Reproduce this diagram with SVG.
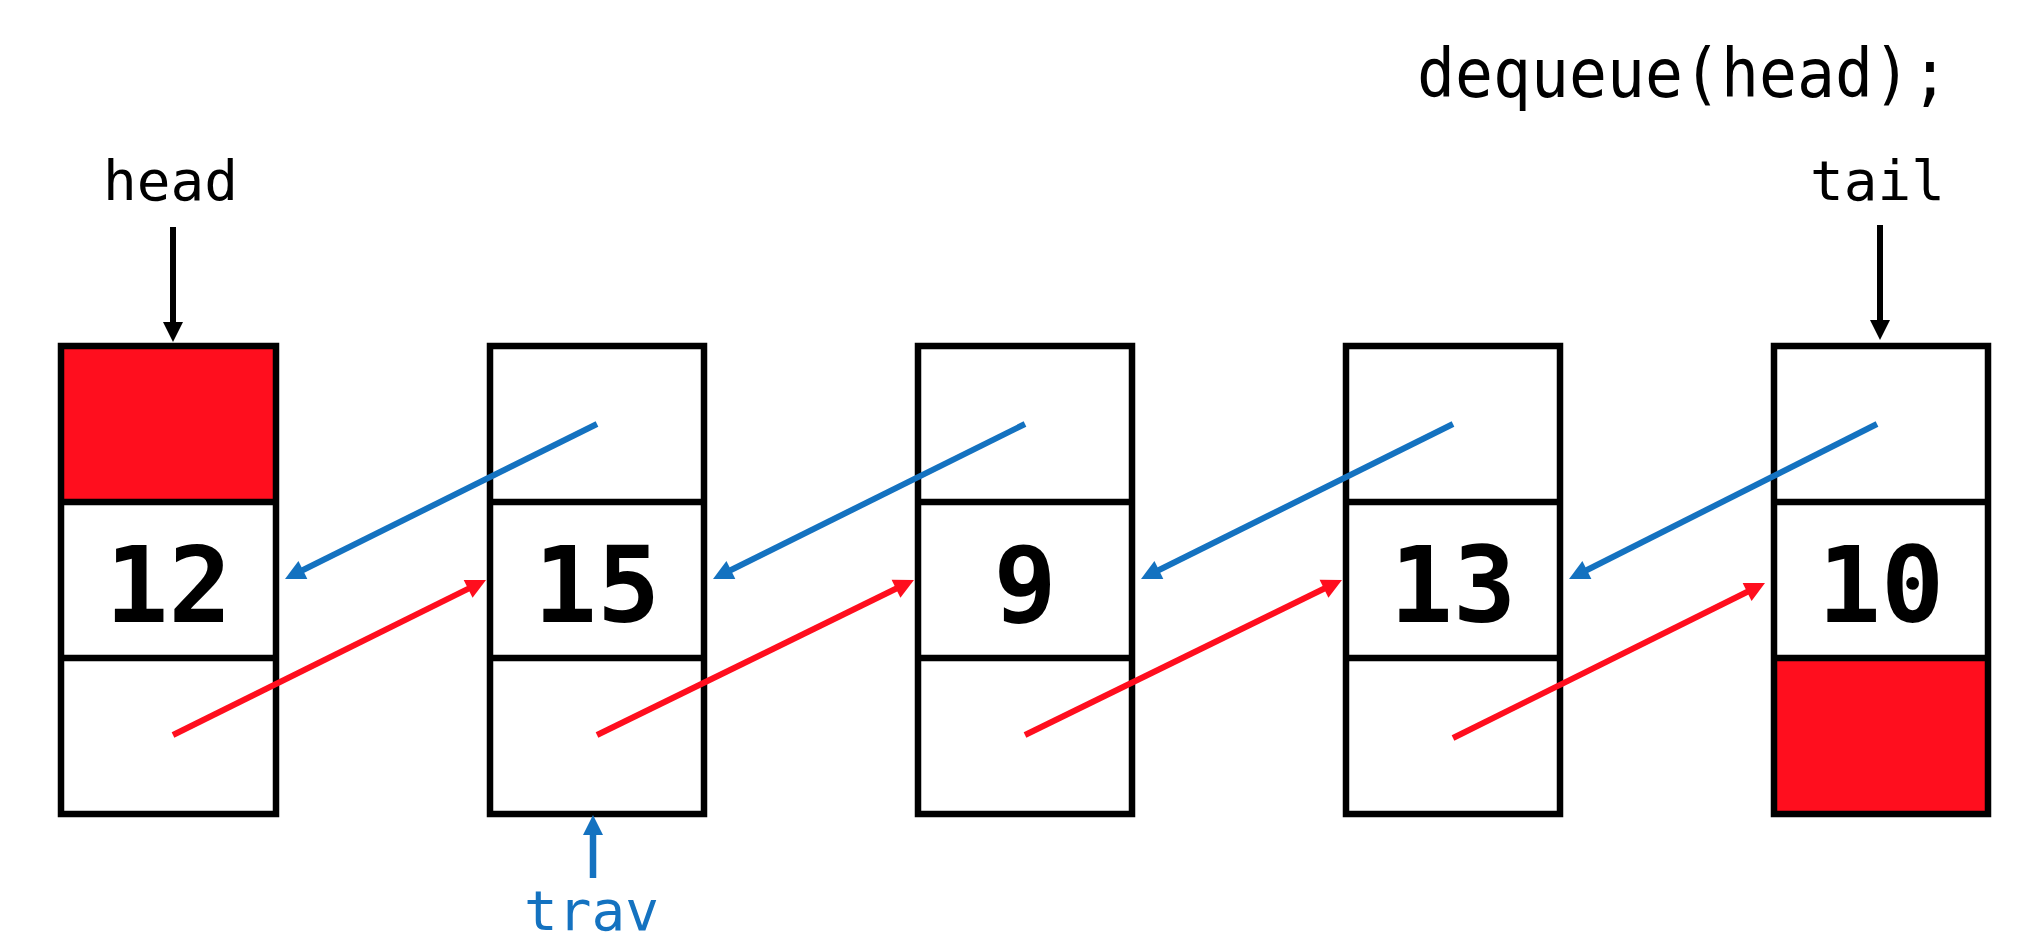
<svg xmlns="http://www.w3.org/2000/svg" width="2026" height="942" viewBox="0 0 2026 942">
<style>
.cell{fill:none;stroke:#000;stroke-width:6.5}
.div{stroke:#000;stroke-width:6.5}
.red{fill:#FF0E1E}
.num{font-family:"DejaVu Sans Mono","Liberation Mono",monospace;font-weight:bold;font-size:105px;text-anchor:middle;fill:#000}
.lbl{font-family:"DejaVu Sans Mono","Liberation Mono",monospace;font-size:56px;text-anchor:middle;fill:#000}
.rl{stroke:#FF0E1E;stroke-width:6;fill:none;marker-end:url(#ahR)}
.bl{stroke:#1472C0;stroke-width:6;fill:none;marker-end:url(#ahB)}
.kl{stroke:#000;stroke-width:6;fill:none;marker-end:url(#ahK)}
.tl{stroke:#1472C0;stroke-width:6.5;fill:none;marker-end:url(#ahB)}
</style>
<defs>
<marker id="ahR" markerUnits="userSpaceOnUse" markerWidth="20" markerHeight="20" viewBox="0 -10 20 20" refX="1" refY="0" orient="auto" overflow="visible"><path d="M0,-10 L20,0 L0,10 z" fill="#FF0E1E"/></marker>
<marker id="ahB" markerUnits="userSpaceOnUse" markerWidth="20" markerHeight="20" viewBox="0 -10 20 20" refX="1" refY="0" orient="auto" overflow="visible"><path d="M0,-10 L20,0 L0,10 z" fill="#1472C0"/></marker>
<marker id="ahK" markerUnits="userSpaceOnUse" markerWidth="20" markerHeight="20" viewBox="0 -10 20 20" refX="1" refY="0" orient="auto" overflow="visible"><path d="M0,-10 L20,0 L0,10 z" fill="#000"/></marker>
</defs>
<rect x="0" y="0" width="2026" height="942" fill="#fff"/>

<text id="title" class="lbl" x="1417" y="97" style="text-anchor:start;font-size:68px" textLength="532" lengthAdjust="spacingAndGlyphs">dequeue(head);</text>

<g id="node1">
<rect class="red" x="61" y="346" width="215" height="156"/>
<rect class="cell" x="61" y="346" width="215" height="468"/>
<line class="div" x1="61" y1="502" x2="276" y2="502"/>
<line class="div" x1="61" y1="658" x2="276" y2="658"/>
<text class="num" x="168.5" y="622">12</text>
</g>
<g id="node2">
<rect class="cell" x="490" y="346" width="214" height="468"/>
<line class="div" x1="490" y1="502" x2="704" y2="502"/>
<line class="div" x1="490" y1="658" x2="704" y2="658"/>
<text class="num" x="597" y="622">15</text>
</g>
<g id="node3">
<rect class="cell" x="918" y="346" width="214" height="468"/>
<line class="div" x1="918" y1="502" x2="1132" y2="502"/>
<line class="div" x1="918" y1="658" x2="1132" y2="658"/>
<text class="num" x="1025" y="622">9</text>
</g>
<g id="node4">
<rect class="cell" x="1346" y="346" width="214" height="468"/>
<line class="div" x1="1346" y1="502" x2="1560" y2="502"/>
<line class="div" x1="1346" y1="658" x2="1560" y2="658"/>
<text class="num" x="1453" y="622">13</text>
</g>
<g id="node5">
<rect class="red" x="1774" y="658" width="214" height="156"/>
<rect class="cell" x="1774" y="346" width="214" height="468"/>
<line class="div" x1="1774" y1="502" x2="1988" y2="502"/>
<line class="div" x1="1774" y1="658" x2="1988" y2="658"/>
<text class="num" x="1881" y="622">10</text>
</g>

<g id="head">
<text class="lbl" x="170.5" y="200">head</text>
</g>
<g id="tail">
<text class="lbl" x="1877.5" y="200">tail</text>
</g>
<g id="trav">
<text class="lbl" x="591.5" y="930" style="fill:#1472C0">trav</text>
</g>

<g id="connectors">
<line class="kl" x1="173" y1="227" x2="173" y2="323"/>
<line class="kl" x1="1880" y1="225" x2="1880" y2="321"/>
<line class="tl" x1="593" y1="878" x2="593" y2="834"/>
<line class="rl" x1="173" y1="735" x2="469.0" y2="588.4"/>
<line class="rl" x1="597" y1="735" x2="896.9" y2="588.3"/>
<line class="rl" x1="1025" y1="735" x2="1324.9" y2="588.3"/>
<line class="rl" x1="1453" y1="738" x2="1748.0" y2="591.5"/>
<line class="bl" x1="597" y1="424" x2="302.0" y2="570.5"/>
<line class="bl" x1="1025" y1="424" x2="730.0" y2="570.5"/>
<line class="bl" x1="1453" y1="424" x2="1158.0" y2="570.5"/>
<line class="bl" x1="1877" y1="424" x2="1586.0" y2="570.5"/>
</g>
</svg>
